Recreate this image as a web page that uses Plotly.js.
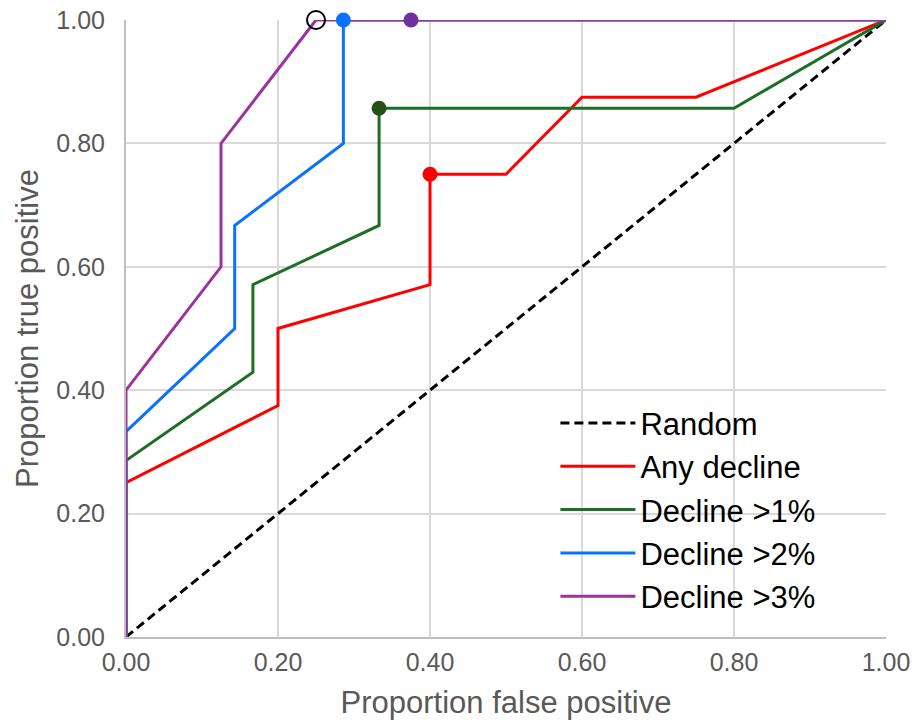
<!DOCTYPE html>
<html>
<head>
<meta charset="utf-8">
<script src="https://cdn.plot.ly/plotly-3.0.1.min.js"></script>
<style>html,body{margin:0;padding:0;background:#fff;}#chart{width:915px;height:725px;}</style>
</head>
<body>
<div id="chart"></div>
<script>
// Data
var randomX = [0, 1];
var randomY = [0, 1];
var anyX = [0, 0, 0.2, 0.2, 0.4, 0.4, 0.5, 0.6, 0.75, 1];
var anyY = [0, 0.25, 0.375, 0.5, 0.571, 0.75, 0.75, 0.875, 0.875, 1];
var d1X = [0, 0, 0.167, 0.167, 0.333, 0.333, 0.8, 1];
var d1Y = [0, 0.286, 0.429, 0.571, 0.667, 0.857, 0.857, 1];
var d2X = [0, 0, 0.143, 0.143, 0.286, 0.286, 1];
var d2Y = [0, 0.333, 0.5, 0.667, 0.8, 1, 1];
var d3X = [0, 0, 0.125, 0.125, 0.25, 1];
var d3Y = [0, 0.4, 0.6, 0.8, 1, 1];
// highlighted points
var anyPtX = [0.4], anyPtY = [0.75];
var d1PtX = [0.333], d1PtY = [0.857];
var d2PtX = [0.286], d2PtY = [1];
var d3PtX = [0.375], d3PtY = [1];
var openPtX = [0.25], openPtY = [1];
var tickVals = [0, 0.2, 0.4, 0.6, 0.8, 1];
var tickText = ['0.00', '0.20', '0.40', '0.60', '0.80', '1.00'];

var cRed = '#ff0000', cGreen = '#1f6e26', cGreenDot = '#26521a', cBlue = '#0a72ff', cPurple = '#9a339e', cPurpleDot = '#7030a0';

function line(x, y, name, color, dash, grp) {
  return {x: x, y: y, name: name, mode: 'lines', type: 'scatter', legendgroup: grp,
    line: {color: color, width: 3, dash: dash || 'solid'}, cliponaxis: false};
}
function pt(x, y, color) {
  return {x: x, y: y, mode: 'markers', type: 'scatter', showlegend: false, hoverinfo: 'skip',
    marker: {color: color, size: 15}, cliponaxis: false};
}

var traces = [
  line(randomX, randomY, 'Random', '#000000', '9px,5px', 'g0'),
  line(anyX, anyY, 'Any decline', cRed, null, 'g1'),
  line(d1X, d1Y, 'Decline >1%', cGreen, null, 'g2'),
  line(d2X, d2Y, 'Decline >2%', cBlue, null, 'g3'),
  line(d3X, d3Y, 'Decline >3%', cPurple, null, 'g4'),
  pt(anyPtX, anyPtY, cRed),
  pt(d1PtX, d1PtY, cGreenDot),
  pt(d2PtX, d2PtY, cBlue),
  pt(d3PtX, d3PtY, cPurpleDot),
  {x: openPtX, y: openPtY, mode: 'markers', type: 'scatter', showlegend: false, hoverinfo: 'skip',
    marker: {color: 'rgba(0,0,0,0)', size: 18, line: {color: '#000000', width: 2}}, cliponaxis: false}
];

var fam = '"Liberation Sans", Arial, sans-serif';
var layout = {
  width: 915, height: 725,
  margin: {l: 126, r: 29, t: 20, b: 88},
  paper_bgcolor: '#ffffff', plot_bgcolor: '#ffffff',
  font: {family: fam, color: '#595959'},
  showlegend: true,
  shapes: [{type: 'rect', xref: 'paper', yref: 'paper', x0: 0.509, x1: 0.979, y0: 0.016, y1: 0.387,
    fillcolor: '#ffffff', line: {width: 0}, layer: 'below'}],
  legend: {x: 0.565, y: 0.390, xanchor: 'left', yanchor: 'top', bgcolor: 'rgba(255,255,255,0)',
    font: {family: fam, size: 31, color: '#000000'},
    tracegroupgap: 10, itemwidth: 75, traceorder: 'normal'},
  xaxis: {range: [0, 1], tickvals: tickVals, ticktext: tickText, showgrid: true, gridcolor: '#d9d9d9', gridwidth: 2,
    zeroline: false, showline: true, linecolor: '#bfbfbf', linewidth: 2, ticks: '', ticklabelstandoff: 2,
    tickfont: {size: 25, color: '#595959'}, fixedrange: true,
    title: {text: 'Proportion false positive', font: {size: 31, color: '#595959'}, standoff: 16}},
  yaxis: {range: [0, 1], tickvals: tickVals, ticktext: tickText, showgrid: true, gridcolor: '#d9d9d9', gridwidth: 2,
    zeroline: false, showline: true, linecolor: '#bfbfbf', linewidth: 2, ticks: '', ticklabelstandoff: 14,
    tickfont: {size: 25, color: '#595959'}, fixedrange: true,
    title: {text: 'Proportion true positive', font: {size: 31, color: '#595959'}, standoff: 8}}
};
Plotly.newPlot('chart', traces, layout, {displayModeBar: false, staticPlot: true});
</script>
</body>
</html>
